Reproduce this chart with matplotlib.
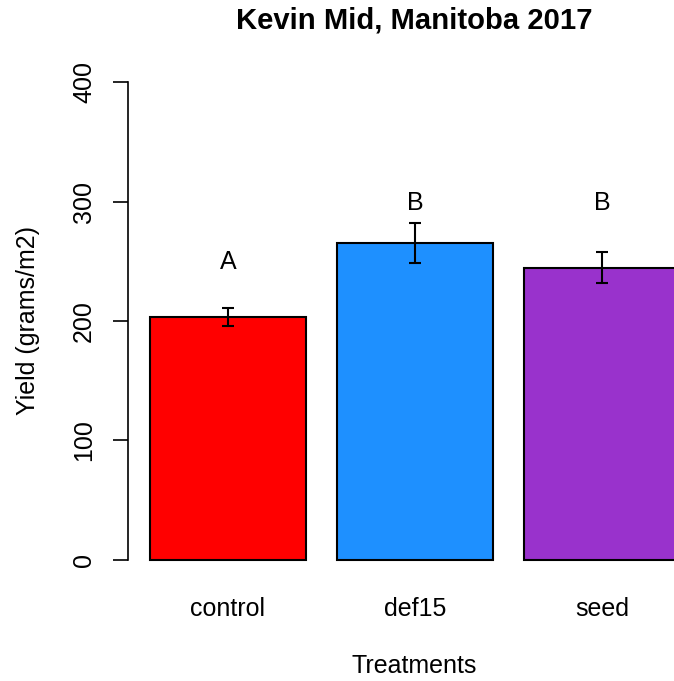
import matplotlib
matplotlib.use('Agg')
import matplotlib.pyplot as plt

treatments = ['control', 'def15', 'seed']
yield_mean = [203.3, 265.3, 244.4]
yield_se = [7.5, 16.7, 13.0]
letters = ['A', 'B', 'B']
letter_y = [249, 299, 299]
colors = ['#FF0000', '#1E90FF', '#9932CC']

plt.rcParams['font.family'] = ['Liberation Sans', 'DejaVu Sans']

fig = plt.figure(figsize=(6.74, 6.81), dpi=100)
ax = fig.add_axes([0.19, 0.1498, 0.81, 0.7577])

x = [0.7, 1.9, 3.1]
ax.bar(x, yield_mean, width=1.0, color=colors, edgecolor='black', linewidth=1.5)
ax.errorbar(x, yield_mean, yerr=yield_se, fmt='none', ecolor='black',
            elinewidth=1.5, capsize=4.5, capthick=1.5)
for xi, lab, ly in zip(x, letters, letter_y):
    ax.text(xi, ly, lab, ha='center', va='center', fontsize=18)

ax.set_xlim(0.059, 3.563)
ax.set_ylim(-16, 416)
ax.set_yticks([0, 100, 200, 300, 400])
ax.set_yticklabels(['0', '100', '200', '300', '400'], rotation=90, va='center')
ax.set_xticks(x)
ax.set_xticklabels(treatments)
ax.tick_params(axis='y', length=11, width=1.2, pad=12, labelsize=18)
ax.tick_params(axis='x', length=0, pad=13, labelsize=18)
for s in ['top', 'right', 'bottom']:
    ax.spines[s].set_visible(False)
ax.spines['left'].set_bounds(0, 400)
ax.spines['left'].set_linewidth(1.2)

ax.set_xlabel('Treatments', fontsize=18, labelpad=24)
ax.xaxis.label.set_x(0.524)
ax.set_ylabel('Yield (grams/m2)', fontsize=18, labelpad=23)
fig.text(0.615, 0.97, 'Kevin Mid, Manitoba 2017', ha='center', va='center',
         fontsize=21.1, fontweight='bold')

fig.savefig('out.png', dpi=100)
